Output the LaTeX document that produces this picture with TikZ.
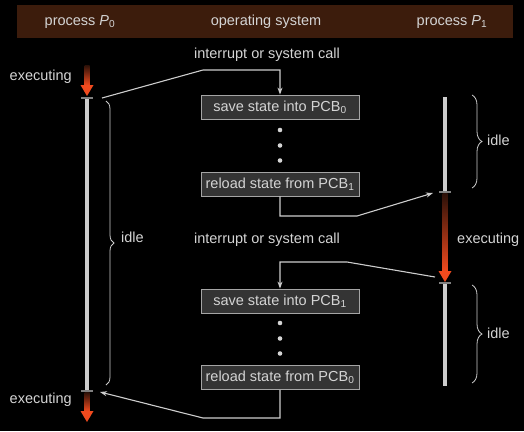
\documentclass[tikz,border=0pt]{standalone}
\usepackage{fontspec}
\setmainfont{Liberation Sans}
\usetikzlibrary{arrows.meta,decorations.pathreplacing}

\definecolor{hdr}{RGB}{60,28,12}
\definecolor{txt}{RGB}{212,212,212}
\definecolor{boxfill}{RGB}{52,52,52}
\definecolor{boxline}{RGB}{165,165,165}
\definecolor{linegray}{RGB}{205,205,205}
\definecolor{runred}{RGB}{240,74,30}
\definecolor{rundark}{RGB}{42,16,8}

\tikzset{
  lbl/.style={text=txt, font=\fontsize{14.5}{17}\selectfont, inner sep=1pt},
  osbox/.style={lbl, draw=boxline, line width=0.8pt, fill=boxfill,
    minimum width=158pt, minimum height=24pt, inner sep=0pt},
  wire/.style={draw=linegray, line width=1.1pt, -{Stealth[length=7pt,width=5pt]}},
  idleline/.style={draw=linegray, line width=4pt},
  tickmark/.style={draw=gray, line width=1.3pt},
  idlebrace/.style={draw=linegray, line width=0.8pt, decorate,
    decoration={brace, amplitude=#1}},
}

% executing arrow: x, top, tip
\newcommand{\run}[3]{%
  \shade[top color=rundark, bottom color=runred] (#1-2.5,#2) rectangle (#1+2.5,#3-11);
  \fill[runred] (#1-6.5,#3-11) -- (#1+6.5,#3-11) -- (#1,#3) -- cycle;
}

\begin{document}
\begin{tikzpicture}[x=1pt, y=-1pt]
  \fill[black] (0,0) rectangle (524,431);
  \useasboundingbox (0,0) rectangle (524,431);

  % header
  \fill[hdr] (17,5) rectangle (513,38);
  \node[lbl] (p0head) at (80,22) {process \textit{P}\textsubscript{0}};
  \node[lbl] (oshead) at (266,22) {operating system};
  \node[lbl] (p1head) at (452,22) {process \textit{P}\textsubscript{1}};

  % operating system
  \node[lbl] (irq0) at (267,55) {interrupt or system call};
  \node[lbl] (irq1) at (267,240) {interrupt or system call};
  \node[osbox] (save0) at (280,107) {save state into PCB\textsubscript{0}};
  \node[osbox] (load1) at (280,184) {reload state from PCB\textsubscript{1}};
  \node[osbox] (save1) at (280,301) {save state into PCB\textsubscript{1}};
  \node[osbox] (load0) at (280,377.5) {reload state from PCB\textsubscript{0}};
  \foreach \y in {130,145.5,160.5,323,338.5,353.5} { \fill[txt] (280,\y) circle (2.3pt); }

  % processes
  \draw[idleline] (87,98) -- (87,391);
  \draw[idleline] (445,97) -- (445,192);
  \draw[idleline] (445,283) -- (445,386);
  \run{87}{65}{96}
  \run{87}{392}{422}
  \run{445}{193}{282}
  \foreach \x/\y in {87/98, 87/391, 445/192, 445/283} { \draw[tickmark] (\x-6,\y) -- (\x+6,\y); }

  \coordinate (p0out) at (102,98);
  \coordinate (p0in) at (100,392);
  \coordinate (p1in) at (433,193);
  \coordinate (p1out) at (435,277);

  \draw[wire] (p0out) -- (203,70) -- (280,70) -- (save0);
  \draw[wire] (load1) -- (280,216) -- (357,216) -- (p1in);
  \draw[wire] (p1out) -- (347,262) -- (280,262) -- (save1);
  \draw[wire] (load0) -- (280,418) -- (203,418) -- (p0in);

  % idle / executing
  \draw[idlebrace=8pt] (106,101) -- (106,385);
  \draw[idlebrace=10pt] (472,95) -- (472,188);
  \draw[idlebrace=10pt] (472,285) -- (472,383);
  \node[lbl, anchor=west] (p0idle) at (120,237) {idle};
  \node[lbl, anchor=west] (p1idleA) at (486,140) {idle};
  \node[lbl, anchor=west] (p1idleB) at (486,333) {idle};
  \node[lbl, anchor=east] (p0runA) at (73,77) {executing};
  \node[lbl, anchor=east] (p0runB) at (73,400) {executing};
  \node[lbl, anchor=west] (p1run) at (456,240) {executing};
\end{tikzpicture}
\end{document}
